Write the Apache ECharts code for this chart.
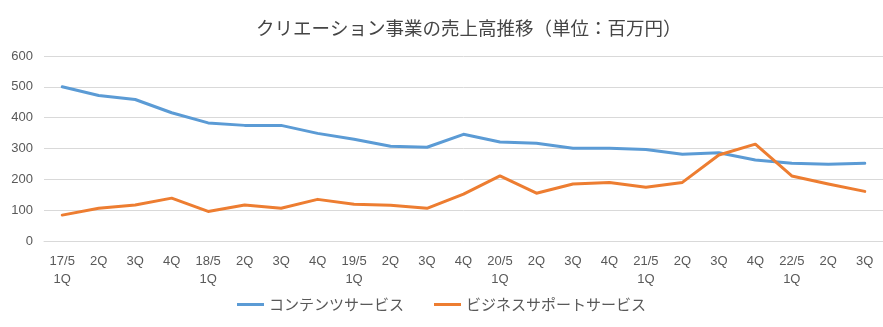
<!DOCTYPE html>
<html>
<head>
<meta charset="utf-8">
<script src="https://cdn.jsdelivr.net/npm/echarts@6/dist/echarts.min.js"></script>
<style>
  html, body { margin: 0; padding: 0; background: #fff; }
  #chart { width: 883px; height: 327px; }
</style>
</head>
<body>
<div id="chart"></div>
<script>
// 四半期ラベル（決算期/四半期）
const categories = [
  '17/5\n1Q', '2Q', '3Q', '4Q',
  '18/5\n1Q', '2Q', '3Q', '4Q',
  '19/5\n1Q', '2Q', '3Q', '4Q',
  '20/5\n1Q', '2Q', '3Q', '4Q',
  '21/5\n1Q', '2Q', '3Q', '4Q',
  '22/5\n1Q', '2Q', '3Q'
];

// 売上高（百万円）
const contentService = [500, 472, 459, 416, 383, 375, 375, 349, 330, 307, 304, 346, 321, 317, 301, 301, 297, 281, 286, 263, 252, 249, 252];
const businessSupport = [84, 106, 117, 139, 96, 117, 106, 135, 119, 116, 106, 152, 211, 155, 185, 190, 174, 190, 279, 314, 211, 185, 161];

const seriesNames = ['コンテンツサービス', 'ビジネスサポートサービス'];
const yTicks = { min: 0, max: 600, interval: 100 };

const chart = echarts.init(document.getElementById('chart'));
const baseFont = '"Liberation Sans", "Noto Sans CJK JP", sans-serif';
const jpFont = '"Noto Sans CJK JP", sans-serif';

chart.setOption({
  animation: false,
  textStyle: { fontFamily: baseFont },
  title: {
    text: 'クリエーション事業の売上高推移（単位：百万円）',
    left: 256,
    top: 19,
    padding: 0,
    textStyle: { fontFamily: jpFont, fontSize: 18.5, fontWeight: 'normal', color: '#454545' }
  },
  legend: {
    bottom: 10,
    left: 'center',
    itemGap: 30,
    itemWidth: 27,
    itemHeight: 3,
    icon: 'rect',
    textStyle: { fontFamily: jpFont, fontSize: 15, color: '#595959' },
    data: seriesNames
  },
  grid: { left: 44, right: 0, top: 56, bottom: 86 },
  xAxis: {
    type: 'category',
    data: categories,
    boundaryGap: true,
    axisLine: { show: true, lineStyle: { color: '#D9D9D9', width: 1 } },
    axisTick: { show: false },
    axisLabel: { color: '#595959', fontSize: 13, lineHeight: 18, margin: 11, interval: 0 }
  },
  yAxis: {
    type: 'value',
    min: yTicks.min,
    max: yTicks.max,
    interval: yTicks.interval,
    axisLine: { show: false },
    axisTick: { show: false },
    axisLabel: { color: '#595959', fontSize: 13, margin: 11 },
    splitLine: { lineStyle: { color: '#D9D9D9', width: 1 } }
  },
  series: [
    {
      name: seriesNames[0],
      type: 'line',
      data: contentService,
      symbol: 'none',
      lineStyle: { width: 3, color: '#5B9BD5', join: 'round', cap: 'round' },
      itemStyle: { color: '#5B9BD5' }
    },
    {
      name: seriesNames[1],
      type: 'line',
      data: businessSupport,
      symbol: 'none',
      lineStyle: { width: 3, color: '#ED7D31', join: 'round', cap: 'round' },
      itemStyle: { color: '#ED7D31' }
    }
  ]
});
</script>
</body>
</html>
